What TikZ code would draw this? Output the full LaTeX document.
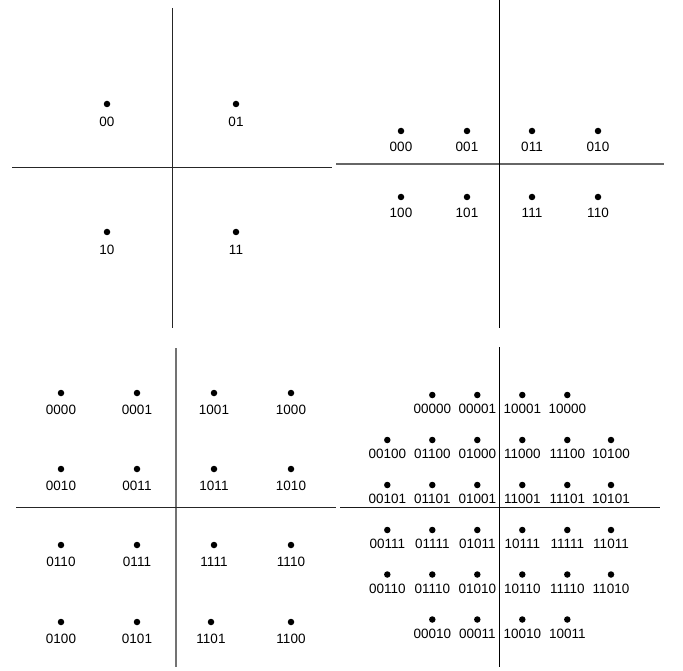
\documentclass[tikz,border=0pt]{standalone}
\usepackage{fontspec}
\setmainfont{Liberation Sans}
\begin{document}
\begin{tikzpicture}[x=1pt,y=-1pt,
  dot/.style={circle,fill=black,inner sep=0pt,minimum size=6.5pt},
  lbl/.style={inner sep=0pt,font=\fontsize{13.5}{15}\selectfont},
  axis/.style={line width=1pt,draw=black!85},
  axisg/.style={line width=1.3pt,draw=black!60}]
\useasboundingbox (0,0) rectangle (683,671);
% ---------- panel 1 ----------
\coordinate (a1t) at (172,8); \coordinate (a1b) at (172,328);
\coordinate (a1l) at (12,168); \coordinate (a1r) at (332,168);
\draw[axis] (a1t) -- (a1b);
\draw[axis] (a1l) -- (a1r);
\foreach \x/\y/\t in {107/104/00, 236/104/01, 107/232/10, 236/232/11}{
  \node[dot] (d\t) at (\x,\y) {};
  \node[lbl] (l\t) at (\x,\y+17.5) {\t};
}
% ---------- panel 2 ----------
\coordinate (a2t) at (499.5,0); \coordinate (a2b) at (499.5,328);
\coordinate (a2l) at (336,164); \coordinate (a2r) at (663.5,164);
\draw[axisg] (a2l) -- (a2r);
\draw[axis,draw=black] (a2t) -- (a2b);
\foreach \x/\y/\t in {401/131/000, 467/131/001, 532/131/011, 598/131/010,
                      401/197/100, 467/197/101, 532/197/111, 598/197/110}{
  \node[dot] (d\t) at (\x,\y) {};
  \node[lbl] (l\t) at (\x,\y+15.5) {\t};
}
% ---------- panel 3 ----------
\coordinate (a3t) at (176,348); \coordinate (a3b) at (176,667);
\coordinate (a3l) at (16,507.5); \coordinate (a3r) at (336,507.5);
\draw[axisg,draw=black!55] (a3t) -- (a3b);
\draw[axis] (a3l) -- (a3r);
\foreach \x/\y/\t in {61/393/0000, 137/393/0001, 214/393/1001, 291/393/1000,
                      61/469/0010, 137/469/0011, 214/469/1011, 291/469/1010,
                      61/545/0110, 137/545/0111, 214/545/1111, 291/545/1110,
                      61/622/0100, 137/622/0101, 211/622/1101, 291/622/1100}{
  \node[dot] (d\t) at (\x,\y) {};
  \node[lbl] (l\t) at (\x,\y+16.5) {\t};
}
% ---------- panel 4 ----------
\coordinate (a4t) at (499.5,347); \coordinate (a4b) at (499.5,667);
\coordinate (a4l) at (340,507.5); \coordinate (a4r) at (659.5,507.5);
\draw[axis,draw=black!90] (a4l) -- (a4r);
\draw[axis,draw=black] (a4t) -- (a4b);
\foreach \x/\y/\t in {
  432.3/395/00000, 477.3/395/00001, 522.3/395/10001, 567.3/395/10000,
  387.3/440/00100, 432.3/440/01100, 477.3/440/01000, 522.3/440/11000, 567.3/440/11100, 611/440/10100,
  387.3/485/00101, 432.3/485/01101, 477.3/485/01001, 522.3/485/11001, 567.3/485/11101, 611/485/10101,
  387.3/530/00111, 432.3/530/01111, 477.3/530/01011, 522.3/530/10111, 567.3/530/11111, 611/530/11011,
  387.3/574.5/00110, 432.3/574.5/01110, 477.3/574.5/01010, 522.3/574.5/10110, 567.3/574.5/11110, 611/574.5/11010,
  432.3/619.5/00010, 477.3/619.5/00011, 522.3/619.5/10010, 567.3/619.5/10011}{
  \node[dot] (d\t) at (\x,\y) {};
  \node[lbl] (l\t) at (\x,\y+14) {\t};
}
\end{tikzpicture}
\end{document}
